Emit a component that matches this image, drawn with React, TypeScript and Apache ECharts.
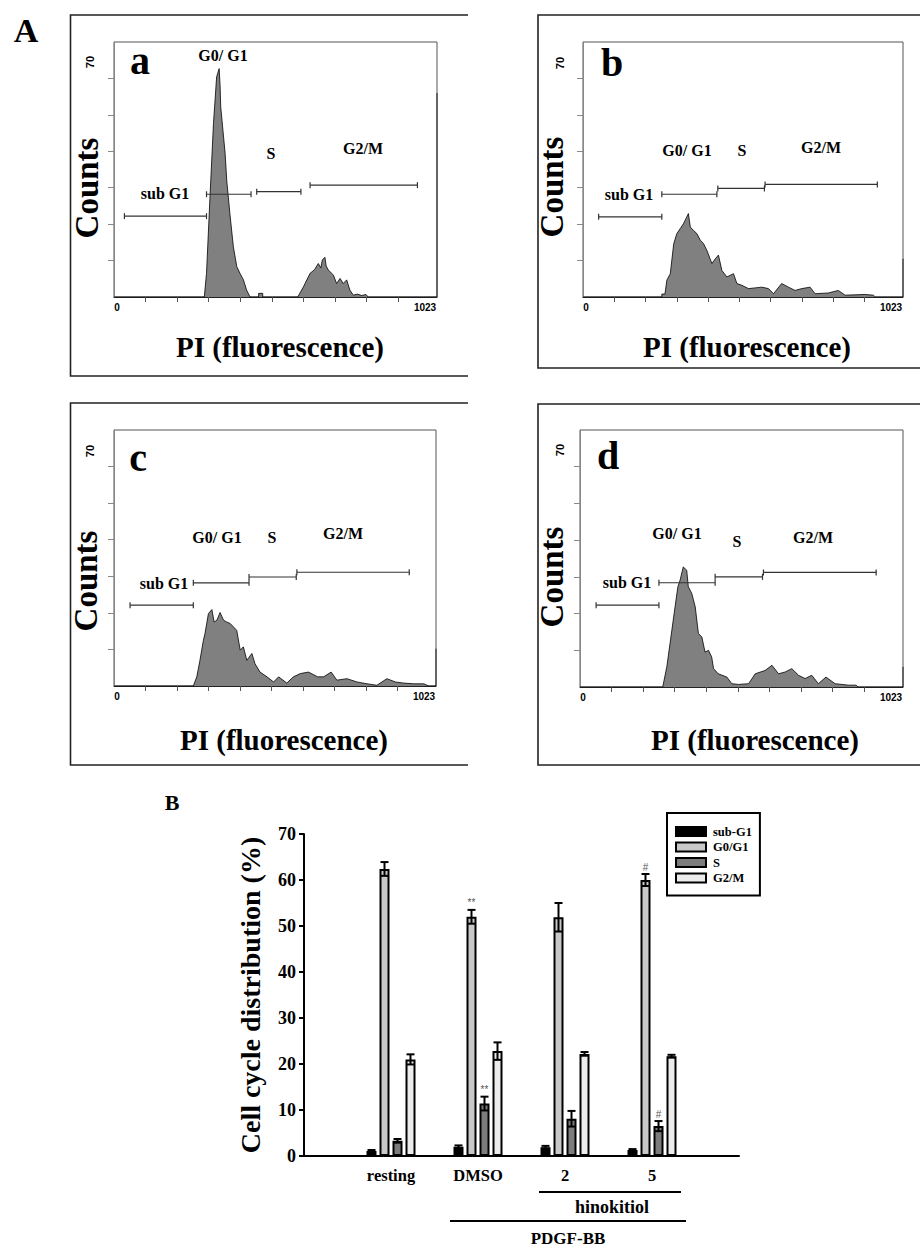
import React, { useEffect, useRef } from 'react';
import * as echarts from 'echarts';

const SERIF = '"Liberation Serif", "Times New Roman", serif';
const SANS = '"Liberation Sans", Arial, sans-serif';

// ---------- Panel A: flow cytometry histograms, [PI channel, counts] ----------
const histA: number[][] = [[0, 0], [286, 0], [293, 6.5], [304, 27.5], [315, 47.6], [325, 60.4], [333, 62.7], [336, 58], [338, 52.2], [344, 46.7], [352, 39.4], [357, 32.1], [367, 22.9], [378, 13.8], [389, 8.3], [399, 6.5], [410, 4.7], [420, 1.9], [431, 0], [458, 0], [458, 1.0], [471, 1.0], [471, 0], [582, 0], [600, 2.8], [621, 6.5], [635, 7.5], [647, 9.2], [655, 8.0], [660, 10.2], [668, 10.9], [672, 8.5], [679, 7.4], [695, 6.0], [705, 3.7], [716, 5.1], [726, 3.7], [737, 4.7], [747, 1.9], [758, 0.5], [770, 0.8], [785, 0.4], [798, 0.7], [805, 0], [1020, 0], [1023, 0], [1023, 56]];
const histB: number[][] = [[0, 0], [252, 0], [252, 0.8], [262, 0.8], [268, 4.6], [279, 6.4], [290, 14.6], [300, 17.4], [311, 18.8], [321, 20.1], [329, 21.5], [337, 22.9], [343, 19.2], [353, 18.3], [364, 17.4], [375, 15.6], [385, 14.7], [396, 12.8], [412, 9.2], [423, 10.5], [433, 11.5], [444, 7.3], [460, 5.5], [481, 6.4], [492, 3.7], [508, 3.2], [529, 2.3], [550, 2.5], [572, 2.7], [593, 2.3], [609, 0.9], [635, 3.7], [657, 2.7], [678, 1.8], [699, 2.3], [726, 2.7], [742, 0.9], [784, 1.1], [816, 1.8], [838, 0.5], [870, 0.6], [902, 0.7], [928, 0.5], [935, 0], [1020, 0], [1023, 0], [1023, 10.5]];
const histC: number[][] = [[0, 0], [252, 0], [263, 2.5], [273, 7.0], [284, 12.5], [289, 14.3], [300, 19.8], [311, 20.9], [318, 17.5], [327, 18.0], [337, 20.1], [348, 18.0], [358, 17.5], [369, 17.1], [379, 16.2], [390, 15.2], [401, 9.8], [411, 10.7], [422, 7.0], [438, 8.9], [448, 6.1], [464, 3.8], [486, 2.5], [507, 1.1], [523, 2.5], [549, 0.8], [570, 2.5], [592, 3.4], [618, 3.8], [647, 2.5], [666, 2.5], [690, 3.8], [708, 1.6], [740, 2.0], [772, 1.1], [804, 0.6], [835, 0.2], [867, 2.0], [894, 1.1], [920, 0.8], [952, 0.6], [984, 0.6], [1000, 0], [1020, 0], [1023, 0], [1023, 10.2]];
const histD: number[][] = [[0, 0], [262, 0], [275, 5.5], [291, 15.5], [301, 21.8], [310, 27.3], [317, 29.1], [327, 32.7], [338, 31.8], [343, 27.3], [354, 25.5], [365, 21.8], [375, 14.6], [386, 13.6], [396, 9.5], [407, 10.0], [417, 8.2], [423, 5.0], [438, 3.6], [465, 2.7], [481, 0.9], [502, 0.7], [534, 0.9], [555, 3.6], [586, 4.5], [608, 5.9], [629, 3.6], [650, 4.1], [671, 5.0], [692, 3.2], [713, 2.3], [734, 3.2], [755, 0.9], [779, 2.7], [808, 0.9], [851, 0.5], [875, 0.5], [880, 0], [1020, 0], [1023, 0], [1023, 5.5]];

// gates: [start channel, end channel, counts level]
const gatesA: number[][] = [[33, 293, 22.2], [293, 434, 28.2], [452, 592, 28.9], [621, 961, 30.7]];
const gatesB: number[][] = [[50, 252, 22.0], [252, 428, 28.2], [431, 580, 29.8], [582, 941, 30.9]];
const gatesC: number[][] = [[51, 252, 22.1], [252, 429, 28.2], [429, 579, 29.8], [581, 938, 31.1]];
const gatesD: number[][] = [[51, 250, 22.3], [250, 428, 28.4], [428, 578, 30.0], [581, 938, 31.2]];

const xTickValues = [100, 200, 300, 400, 500, 600, 700, 800, 900];
const xLabelValues = [0, 1023];
const yTickValues = [10, 20, 30, 40, 50, 60];

// ---------- Panel B: bar chart ----------
const PHASES = ['sub-G1', 'G0/G1', 'S', 'G2/M'];
const groupLabels = ['', 'resting', 'DMSO', '2', '5', ''];
const subG1Mean = [1.1, 2.0, 1.9, 1.3];
const subG1Err = [0.2, 0.3, 0.3, 0.2];
const g0g1Mean = [62.4, 52.0, 51.9, 60.0];
const g0g1Err = [1.5, 1.5, 3.1, 1.3];
const sMean = [3.3, 11.4, 8.1, 6.5];
const sErr = [0.4, 1.5, 1.7, 1.1];
const g2mMean = [21.0, 22.8, 22.2, 21.7];
const g2mErr = [1.1, 1.9, 0.4, 0.3];
const subG1Sig = ['', '', '', ''];
const g0g1Sig = ['', '**', '', '#'];
const sSig = ['', '**', '', '#'];
const g2mSig = ['', '', '', ''];
const phaseColors = ['#000000', '#c8c8c8', '#7c7c7c', '#ececec'];

const BAR_W = 10;
const BAR_GAP = 0.3;

const histGrids = [
  { left: 114, top: 42, width: 323, height: 255 },
  { left: 583, top: 42, width: 320, height: 255 },
  { left: 114, top: 430, width: 322, height: 256 },
  { left: 580, top: 430, width: 323, height: 257 },
];
const barGrid = { left: 304, top: 834, width: 435, height: 322 };

const panels = [
  { letter: 'a', hist: histA, gates: gatesA, letterPos: [140, 60], g0: [223, 55], s: [271, 153], g2m: [363, 148], sub: [165, 193], counts: [87, 188], pi: [280, 347], seventy: [90, 62], frame: [70.5, 15, 468, 376] },
  { letter: 'b', hist: histB, gates: gatesB, letterPos: [612, 62], g0: [687, 150], s: [742, 150], g2m: [821, 147], sub: [629, 194], counts: [552, 187], pi: [747, 347], seventy: [560, 63], frame: [538, 15, 921, 368] },
  { letter: 'c', hist: histC, gates: gatesC, letterPos: [138, 457], g0: [217, 537], s: [272, 537], g2m: [343, 533], sub: [164, 583], counts: [86, 581], pi: [284, 740], seventy: [90, 451], frame: [70.5, 403, 468, 765] },
  { letter: 'd', hist: histD, gates: gatesD, letterPos: [608, 455], g0: [677, 533], s: [737, 541], g2m: [813, 537], sub: [627, 582], counts: [552, 577], pi: [755, 740], seventy: [560, 450], frame: [538, 404, 921, 765] },
];

function txt(text: string, x: number, y: number, size: number, opts: any = {}) {
  return {
    type: 'text',
    x,
    y,
    rotation: opts.rotation || 0,
    z: 10,
    style: {
      text,
      fontFamily: opts.family || SERIF,
      fontWeight: 'bold',
      fontSize: size,
      fill: opts.fill || '#000',
      align: 'center',
      verticalAlign: 'middle',
      textAlign: 'center',
      textVerticalAlign: 'middle',
    },
  };
}

function buildOption() {
  const grid: any[] = [...histGrids.map((g) => ({ ...g, show: true, borderColor: '#555', borderWidth: 1, backgroundColor: '#fff' })), { ...barGrid }];
  const xAxis: any[] = [];
  const yAxis: any[] = [];
  const series: any[] = [];
  const graphic: any[] = [];

  panels.forEach((p, i) => {
    xAxis.push({
      type: 'value', gridIndex: i, min: 0, max: 1023,
      splitLine: { show: false },
      axisLine: { show: true, lineStyle: { color: '#222', width: 1 } },
      axisTick: { show: true, customValues: xTickValues, length: 5, lineStyle: { color: '#555' } },
      axisLabel: {
        customValues: xLabelValues, margin: 5,
        formatter: (v: number) => (v === 1023 ? '{r|1023}' : '{l|0}'),
        rich: {
          r: { fontFamily: SANS, fontWeight: 'bold', fontSize: 10, color: '#000', padding: [0, 24, 0, 0] },
          l: { fontFamily: SANS, fontWeight: 'bold', fontSize: 10, color: '#000', padding: [0, 0, 0, 6] },
        },
      },
    });
    yAxis.push({
      type: 'value', gridIndex: i, min: 0, max: 70, interval: 10,
      splitLine: { show: false },
      axisLine: { show: true, lineStyle: { color: '#888', width: 1 } },
      axisTick: { show: true, customValues: yTickValues, length: 6, lineStyle: { color: '#888' } },
      axisLabel: { show: false },
    });
    series.push({
      type: 'line', xAxisIndex: i, yAxisIndex: i, data: p.hist,
      symbol: 'none', showSymbol: false, z: 2,
      lineStyle: { color: '#000', width: 0.8 },
      areaStyle: { color: '#808080', opacity: 1 },
    });
    series.push({
      type: 'custom', xAxisIndex: i, yAxisIndex: i, data: p.gates, z: 3,
      encode: { x: [0, 1], y: 2 },
      renderItem: (params: any, api: any) => {
        const y = api.value(2);
        const p1 = api.coord([api.value(0), y]);
        const p2 = api.coord([api.value(1), y]);
        const st = { stroke: '#333', lineWidth: 1.2 };
        return {
          type: 'group',
          children: [
            { type: 'line', shape: { x1: p1[0], y1: p1[1], x2: p2[0], y2: p2[1] }, style: st },
            { type: 'line', shape: { x1: p1[0], y1: p1[1] - 3, x2: p1[0], y2: p1[1] + 3 }, style: st },
            { type: 'line', shape: { x1: p2[0], y1: p2[1] - 3, x2: p2[0], y2: p2[1] + 3 }, style: st },
          ],
        };
      },
    });
    const [x1, y1, x2, y2] = p.frame;
    graphic.push({
      type: 'polyline', z: 1,
      shape: { points: [[x2, y1], [x1, y1], [x1, y2], [x2, y2]] },
      style: { stroke: '#222', lineWidth: 1.6, fill: 'none' },
    });
    graphic.push(txt(p.letter, p.letterPos[0], p.letterPos[1], 40));
    graphic.push(txt('G0/ G1', p.g0[0], p.g0[1], 16));
    graphic.push(txt('S', p.s[0], p.s[1], 16));
    graphic.push(txt('G2/M', p.g2m[0], p.g2m[1], 16));
    graphic.push(txt('sub G1', p.sub[0], p.sub[1], 16));
    graphic.push(txt('Counts', p.counts[0], p.counts[1], 33, { rotation: Math.PI / 2 }));
    graphic.push(txt('PI (fluorescence)', p.pi[0], p.pi[1], 29));
    graphic.push(txt('70', p.seventy[0], p.seventy[1], 11, { rotation: Math.PI / 2, family: SANS }));
  });

  // Bar chart axes
  xAxis.push({
    type: 'category', gridIndex: 4, data: groupLabels, boundaryGap: false,
    axisTick: { show: false },
    axisLine: { show: true, lineStyle: { color: '#000', width: 2 } },
    axisLabel: { interval: 0, fontFamily: SERIF, fontWeight: 'bold', fontSize: 16.5, color: '#000', margin: 11 },
  });
  yAxis.push({
    type: 'value', gridIndex: 4, min: 0, max: 70, interval: 10,
    splitLine: { show: false },
    axisLine: { show: true, lineStyle: { color: '#000', width: 2 } },
    axisTick: { show: true, length: 5, lineStyle: { color: '#000', width: 2 } },
    axisLabel: { fontFamily: SERIF, fontWeight: 'bold', fontSize: 18, color: '#000', margin: 8 },
    name: 'Cell cycle distribution (%)', nameLocation: 'middle', nameGap: 40, nameRotate: 90,
    nameTextStyle: { fontFamily: SERIF, fontWeight: 'bold', fontSize: 28, color: '#000' },
  });

  const means = [subG1Mean, g0g1Mean, sMean, g2mMean];
  const errs = [subG1Err, g0g1Err, sErr, g2mErr];
  const sigs = [subG1Sig, g0g1Sig, sSig, g2mSig];
  PHASES.forEach((name, pi) => {
    series.push({
      name, type: 'bar', xAxisIndex: 4, yAxisIndex: 4,
      data: ['-', ...means[pi], '-'],
      barWidth: BAR_W, barGap: `${BAR_GAP * 100}%`,
      itemStyle: { color: phaseColors[pi], borderColor: '#000', borderWidth: 2 },
    });
  });
  const gap = BAR_W * BAR_GAP;
  const total = PHASES.length * BAR_W + (PHASES.length - 1) * gap;
  const offsets = PHASES.map((_, i) => -total / 2 + BAR_W / 2 + i * (BAR_W + gap));
  const errRows: number[][] = [];
  const sigRows: string[] = [];
  PHASES.forEach((_, pi) => {
    means[pi].forEach((m, gi) => {
      errRows.push([gi + 1, m, errs[pi][gi], pi]);
      sigRows.push(sigs[pi][gi]);
    });
  });
  series.push({
    type: 'custom', xAxisIndex: 4, yAxisIndex: 4, data: errRows, z: 5,
    encode: { x: 0, y: 1 },
    renderItem: (params: any, api: any) => {
      const pi = api.value(3);
      const m = api.value(1);
      const e = api.value(2);
      const top = api.coord([api.value(0), m + e]);
      const bot = api.coord([api.value(0), m - e]);
      const x = top[0] + offsets[pi];
      const st = { stroke: '#000', lineWidth: 2 };
      const children: any[] = [
        { type: 'line', shape: { x1: x, y1: top[1], x2: x, y2: bot[1] }, style: st },
        { type: 'line', shape: { x1: x - 4, y1: top[1], x2: x + 4, y2: top[1] }, style: st },
        { type: 'line', shape: { x1: x - 4, y1: bot[1], x2: x + 4, y2: bot[1] }, style: st },
      ];
      const sig = sigRows[params.dataIndex];
      if (sig) {
        children.push({
          type: 'text', x, y: top[1] - 7,
          style: { text: sig, fontFamily: SANS, fontSize: 10, fill: '#555', align: 'center', verticalAlign: 'middle' },
        });
      }
      return { type: 'group', children };
    },
  });

  // Bar chart annotations
  graphic.push(txt('A', 26, 30, 34));
  graphic.push(txt('B', 172, 802, 22));
  graphic.push({ type: 'line', shape: { x1: 539, y1: 1192, x2: 681, y2: 1192 }, style: { stroke: '#000', lineWidth: 2 } });
  graphic.push(txt('hinokitiol', 612, 1207, 18));
  graphic.push({ type: 'line', shape: { x1: 450, y1: 1221, x2: 686, y2: 1221 }, style: { stroke: '#000', lineWidth: 2 } });
  graphic.push(txt('PDGF-BB', 568, 1238, 17));

  return {
    animation: false,
    backgroundColor: '#fff',
    grid,
    xAxis,
    yAxis,
    series,
    graphic,
    legend: {
      data: PHASES,
      left: 667, top: 813, orient: 'vertical',
      itemWidth: 30, itemHeight: 9, itemGap: 2.5,
      padding: [12, 8, 11, 8],
      borderColor: '#000', borderWidth: 2, borderRadius: 0,
      backgroundColor: '#fff',
      icon: 'rect',
      itemStyle: { borderColor: '#000', borderWidth: 2 },
      textStyle: { fontFamily: SERIF, fontWeight: 'bold', fontSize: 12.5, color: '#000', padding: [0, 0, 0, 2] },
    },
  };
}

export default function App() {
  const ref = useRef<HTMLDivElement>(null);
  useEffect(() => {
    if (!ref.current) return;
    const chart = echarts.init(ref.current, null, { renderer: 'svg' });
    chart.setOption(buildOption() as any);
    return () => chart.dispose();
  }, []);
  return <div ref={ref} style={{ position: 'absolute', left: 0, top: 0, width: 920, height: 1247 }} />;
}
